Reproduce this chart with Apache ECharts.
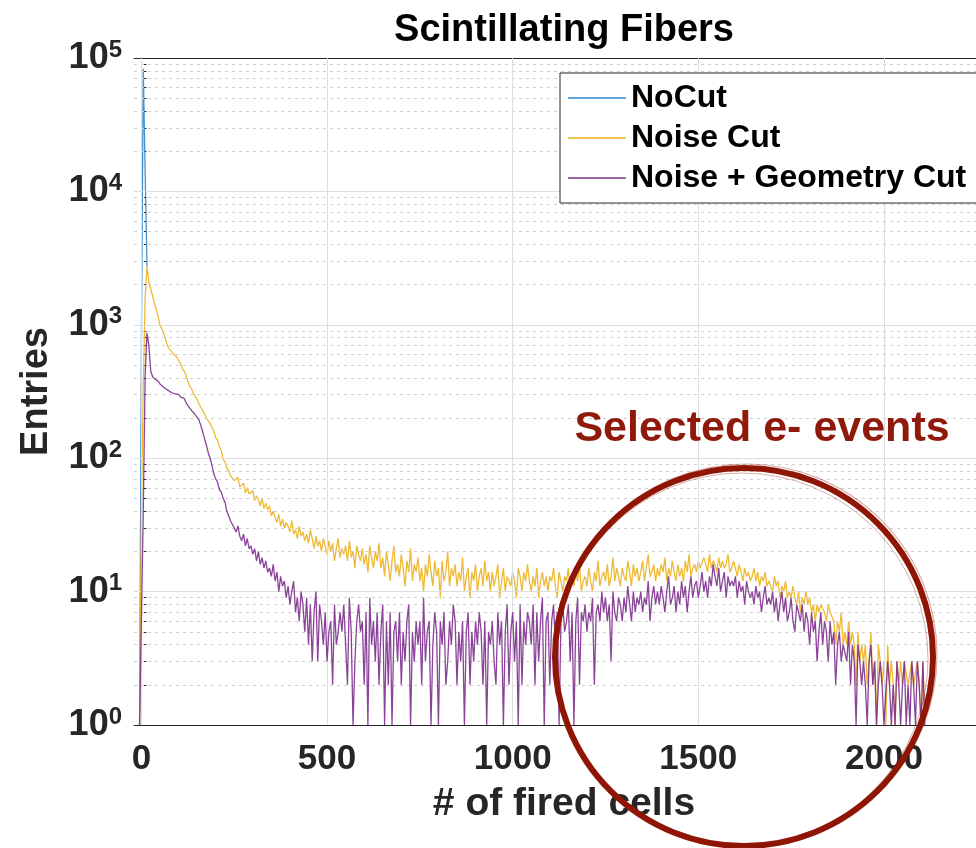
<!DOCTYPE html>
<html>
<head>
<meta charset="utf-8">
<title>Scintillating Fibers</title>
<script src="https://cdn.jsdelivr.net/npm/echarts@6/dist/echarts.min.js"></script>
<style>
html,body{margin:0;padding:0;background:#fff;}
#main{width:976px;height:848px;}
</style>
</head>
<body>
<div id="main"></div>
<script>
// histogram bins (# of fired cells): first bin and bin width
var binStart = -5;
var binWidth = 5;

var noCut = [1, 800, 83000, 14000, 2750];

var noiseCut = [
    1, 40, 350, 1600, 2750, 2100, 1850, 1650, 1450, 1300,
    1150, 1000, 930, 860, 780, 700, 660, 640, 610, 590,
    575, 540, 510, 470, 450, 420, 375, 350, 330, 305,
    290, 275, 255, 240, 228, 215, 200, 190, 183, 170,
    160, 142, 137, 121, 115, 98, 94, 84, 81, 74,
    73, 68, 66, 72, 61, 60, 65, 55, 60, 54,
    53, 57, 48, 52, 49, 44, 50, 42, 46, 41,
    44, 37, 40, 36, 33, 38, 31, 35, 30, 33,
    31, 28, 34, 27, 29, 25, 31, 26, 28, 24,
    27, 23, 29, 25, 21, 26, 22, 24, 20, 25,
    22, 19, 24, 20, 23, 17, 21, 25, 18, 21,
    19, 22, 17, 24, 18, 20, 15, 22, 19, 17,
    21, 16, 19, 14, 22, 18, 15, 20, 17, 23,
    15, 18, 13, 20, 16, 12, 17, 22, 14, 16,
    13, 19, 15, 11, 17, 14, 21, 12, 16, 14,
    18, 12, 15, 10, 16, 13, 19, 14, 11, 17,
    13, 15, 9, 17, 12, 14, 20, 11, 15, 13,
    16, 11, 14, 12, 18, 10, 13, 15, 9, 14,
    12, 16, 10, 13, 15, 11, 17, 12, 14, 10,
    14, 11, 13, 16, 9, 12, 15, 10, 13, 12,
    11, 14, 12, 9, 15, 13, 10, 14, 12, 16,
    12, 10, 13, 11, 15, 9, 12, 14, 11, 13,
    10, 13, 12, 15, 11, 9, 14, 12, 10, 13,
    12, 15, 10, 13, 11, 14, 12, 16, 10, 12,
    13, 11, 15, 12, 10, 14, 12, 17, 11, 13,
    14, 12, 16, 11, 13, 18, 12, 15, 13, 11,
    15, 13, 12, 17, 14, 11, 16, 13, 15, 12,
    14, 17, 12, 15, 19, 13, 14, 16, 12, 15,
    13, 16, 14, 18, 12, 15, 13, 17, 14, 12,
    16, 13, 15, 12, 17, 14, 19, 13, 15, 16,
    14, 17, 15, 15, 18, 16, 14, 19, 15, 17,
    16, 14, 18, 15, 17, 15, 16, 19, 14, 15,
    17, 15, 13, 16, 14, 12, 15, 13, 14, 12,
    13, 15, 12, 14, 11, 13, 12, 14, 11, 12,
    12, 10, 13, 11, 12, 9, 11, 10, 12, 9,
    10, 9, 11, 9, 8, 10, 7, 9, 8, 10,
    8, 9, 7, 8, 6, 8, 7, 8, 8, 7,
    6, 8, 7, 7, 6, 4, 6, 5, 7, 4,
    5, 4, 6, 4, 5, 4, 2, 5, 3, 4,
    3, 4, 2, 3, 5, 2, 3, 1, 4, 3,
    2, 3, 1, 4, 2, 3, 2, 1, 3, 2,
    3, 2, 3, 3, 2, 2, 3, 2, 2, 3,
    2, 1, 3, 1
];

var noiseGeoCut = [
    1, 1, 40, 420, 870, 700, 450, 410, 395, 385,
    378, 360, 352, 340, 338, 325, 322, 312, 314, 303,
    298, 301, 288, 279, 281, 262, 248, 242, 228, 224,
    212, 206, 193, 176, 158, 140, 125, 110, 100, 88,
    76, 70, 66, 58, 56, 50, 47, 40, 39, 34,
    33, 30, 28, 31, 26, 24, 27, 22, 25, 21,
    22, 19, 21, 17, 20, 16, 18, 15, 17, 14,
    15, 13, 16, 12, 14, 10, 13, 11, 12, 9,
    11, 8, 10, 12, 7, 9, 6, 10, 8, 5,
    9, 4, 8, 3, 7, 10, 3, 8, 6, 4,
    7, 3, 5, 6, 2, 8, 4, 5, 7, 5,
    8, 4, 2, 9, 5, 1, 3, 6, 8, 5,
    6, 2, 7, 1, 9, 4, 6, 3, 7, 2,
    5, 8, 1, 6, 2, 7, 1, 5, 6, 3,
    7, 2, 5, 3, 6, 8, 1, 5, 3, 6,
    4, 6, 2, 9, 3, 5, 6, 1, 4, 7,
    5, 1, 6, 4, 7, 2, 3, 6, 4, 8,
    6, 2, 5, 3, 6, 1, 5, 7, 2, 5,
    3, 6, 4, 7, 5, 2, 6, 1, 5, 4,
    6, 3, 2, 7, 4, 6, 1, 5, 8, 2,
    5, 7, 3, 6, 1, 8, 2, 6, 4, 7,
    6, 4, 8, 2, 7, 3, 6, 9, 1, 6,
    7, 2, 6, 8, 4, 7, 1, 6, 8, 5,
    6, 8, 3, 7, 1, 6, 9, 2, 7, 6,
    8, 5, 7, 6, 9, 2, 7, 8, 6, 10,
    7, 9, 6, 8, 3, 10, 7, 6, 9, 8,
    6, 9, 7, 11, 8, 6, 10, 7, 9, 8,
    10, 7, 9, 8, 12, 6, 9, 11, 8, 10,
    8, 11, 9, 7, 10, 13, 8, 9, 11, 7,
    10, 8, 12, 9, 11, 7, 10, 13, 9, 11,
    12, 9, 11, 14, 10, 12, 9, 13, 11, 16,
    13, 11, 15, 10, 12, 14, 9, 13, 11, 12,
    11, 13, 9, 12, 10, 11, 8, 12, 10, 9,
    10, 8, 11, 9, 10, 7, 9, 11, 8, 9,
    8, 10, 7, 9, 6, 8, 10, 7, 9, 6,
    7, 9, 6, 5, 8, 7, 6, 8, 5, 7,
    6, 4, 7, 5, 6, 3, 5, 7, 4, 6,
    5, 3, 6, 4, 5, 2, 4, 5, 3, 4,
    4, 3, 5, 2, 4, 3, 1, 4, 3, 2,
    3, 2, 1, 3, 4, 2, 3, 1, 2, 3,
    2, 1, 1, 3, 2, 1, 2, 1, 3, 2,
    1, 2, 3, 1, 2, 1, 3, 2, 1, 3,
    2, 1, 3, 1
];

var seriesNames = ['NoCut', 'Noise Cut', 'Noise + Geometry Cut'];
var seriesColors = ['#2f86cb', '#edb120', '#7e2f8e'];
var xTicks = [0, 500, 1000, 1500, 2000];
var yDecades = [1, 10, 100, 1000, 10000, 100000];

var FONT = '"Liberation Sans", Arial, Helvetica, sans-serif';
var TXT = '#262626';

function toPairs(arr) {
    var out = [];
    for (var i = 0; i < arr.length; i++) {
        out.push([binStart + i * binWidth, arr[i]]);
    }
    return out;
}

// log minor ticks 2..9 of every decade
var yMinor = [];
for (var d = 0; d < yDecades.length - 1; d++) {
    for (var k = 2; k <= 9; k++) yMinor.push(k * yDecades[d]);
}
var yAllTicks = yDecades.concat(yMinor);

// grid lines drawn as mark lines (solid major, dotted minor)
var gridLines = [];
yMinor.forEach(function (v) {
    gridLines.push({ yAxis: v, lineStyle: { type: [3, 4], color: '#cfcfcf', width: 1 } });
});
yDecades.slice(1, 5).forEach(function (v) {
    gridLines.push({ yAxis: v, lineStyle: { type: 'solid', color: '#dedede', width: 1 } });
});
xTicks.forEach(function (v) {
    gridLines.push({ xAxis: v, lineStyle: { type: 'solid', color: '#dedede', width: 1 } });
});

var chart = echarts.init(document.getElementById('main'));

function histSeries(idx, data) {
    return {
        name: seriesNames[idx],
        type: 'line',
        data: toPairs(data),
        showSymbol: false,
        symbol: 'none',
        silent: true,
        z: 3 + idx,
        lineStyle: { width: 1.3, color: seriesColors[idx], opacity: 0.9 },
        itemStyle: { color: seriesColors[idx] }
    };
}

var option = {
    animation: false,
    backgroundColor: '#fff',
    // plot box runs past the right edge of the picture
    grid: { left: 134, right: 0, top: 58, bottom: 123 },
    legend: {
        data: seriesNames,
        z: 20,
        orient: 'vertical',
        left: 560,
        top: 73,
        icon: 'rect',
        itemWidth: 58,
        itemHeight: 1.5,
        itemGap: 6,
        padding: [8, 40, 8, 8],
        backgroundColor: '#fff',
        borderColor: TXT,
        borderWidth: 1,
        borderRadius: 0,
        selectedMode: false,
        textStyle: { fontFamily: FONT, fontSize: 32, fontWeight: 'bold', color: '#000', lineHeight: 34 }
    },
    graphic: [
        {
            type: 'text', x: 564, y: 12, z: 10,
            style: { text: 'Scintillating Fibers', font: 'bold 38px ' + FONT, fill: '#000', textAlign: 'center' }
        },
        {
            type: 'text', x: 762, y: 408, z: 10,
            style: { text: 'Selected e- events', font: 'bold 43px ' + FONT, fill: '#8f1a0b', textAlign: 'center' }
        },
        {
            type: 'circle', z: 10, silent: true,
            shape: { cx: 744, cy: 657, r: 189 },
            style: { fill: 'none', stroke: '#8f1505', lineWidth: 6 }
        },
        {
            type: 'circle', z: 10, silent: true,
            shape: { cx: 746, cy: 655, r: 191 },
            style: { fill: 'none', stroke: '#8f1505', lineWidth: 1.2, opacity: 0.35 }
        },
        {
            type: 'circle', z: 10, silent: true,
            shape: { cx: 742, cy: 659, r: 186 },
            style: { fill: 'none', stroke: '#8f1505', lineWidth: 1, opacity: 0.35 }
        }
    ],
    xAxis: [
        {
            type: 'value',
            min: -20,
            max: 2248,
            name: '# of fired cells',
            nameLocation: 'middle',
            nameGap: 60,
            nameTextStyle: { fontFamily: FONT, fontSize: 39, fontWeight: 'bold', color: TXT, padding: [0, 0, 0, 18] },
            axisLine: { show: true, onZero: false, lineStyle: { color: TXT, width: 1 } },
            axisTick: { show: true, inside: true, length: 6, customValues: xTicks, lineStyle: { color: TXT } },
            axisLabel: {
                customValues: xTicks,
                formatter: function (v) { return String(v); },
                fontFamily: FONT, fontSize: 35, fontWeight: 'bold', color: TXT, margin: 17
            },
            splitLine: { show: false }
        },
        {
            type: 'value',
            position: 'top',
            min: -20,
            max: 2248,
            axisLine: { show: true, onZero: false, lineStyle: { color: TXT, width: 1 } },
            axisTick: { show: true, inside: true, length: 6, customValues: xTicks, lineStyle: { color: TXT } },
            axisLabel: { show: false },
            splitLine: { show: false }
        }
    ],
    yAxis: {
        type: 'log',
        logBase: 10,
        min: 1,
        max: 100000,
        name: 'Entries',
        nameLocation: 'middle',
        nameGap: 78,
        nameRotate: 90,
        nameTextStyle: { fontFamily: FONT, fontSize: 38, fontWeight: 'bold', color: TXT },
        axisLine: { show: true, lineStyle: { color: TXT, width: 1 } },
        axisTick: { show: true, inside: true, length: 5, customValues: yAllTicks, lineStyle: { color: TXT } },
        axisLabel: {
            customValues: yDecades,
            margin: 12,
            formatter: function (v) {
                return '{b|10}{s|' + Math.round(Math.log10(v)) + '}';
            },
            rich: {
                b: { fontFamily: FONT, fontSize: 36, fontWeight: 'bold', color: TXT },
                s: { fontFamily: FONT, fontSize: 24, fontWeight: 'bold', color: TXT, verticalAlign: 'top', padding: [0, 0, 16, 0] }
            }
        },
        splitLine: { show: false }
    },
    series: [
        {
            name: 'grid',
            type: 'line',
            data: [],
            silent: true,
            z: 1,
            markLine: {
                silent: true,
                animation: false,
                symbol: ['none', 'none'],
                label: { show: false },
                emphasis: { disabled: true },
                data: gridLines
            }
        },
        histSeries(0, noCut),
        histSeries(1, noiseCut),
        histSeries(2, noiseGeoCut)
    ]
};

chart.setOption(option);
</script>
</body>
</html>
